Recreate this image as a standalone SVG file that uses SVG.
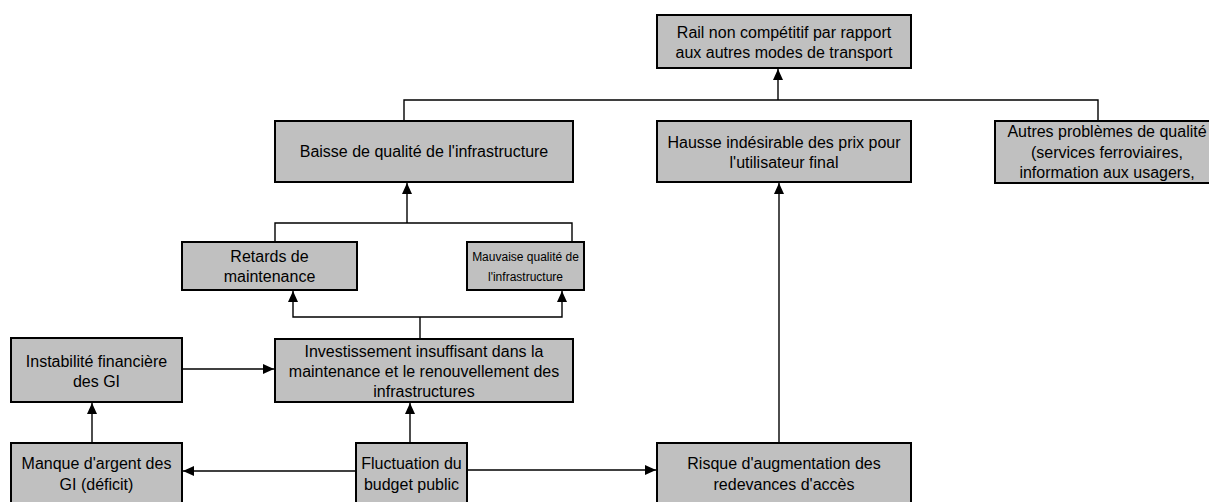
<svg xmlns="http://www.w3.org/2000/svg" width="1209" height="502" viewBox="0 0 1209 502">
<defs>
<style>
.box{fill:#c0c0c0;stroke:#000;stroke-width:2}
.t{font-family:"Liberation Sans",Arial,sans-serif;font-size:16px;fill:#000;text-anchor:middle}
.s{font-size:12px}
.c{fill:none;stroke:#000;stroke-width:1.4}
.a{marker-end:url(#ah)}
</style>
<marker id="ah" markerUnits="userSpaceOnUse" markerWidth="11" markerHeight="10" refX="11" refY="5" orient="auto" viewBox="0 0 11 10">
<path d="M0,0 L11,5 L0,10 z" fill="#000"/>
</marker>
</defs>
<rect width="1209" height="502" fill="#fff"/>
<g id="connectors">
<path class="c a" d="M778,100 V69"/>
<path class="c" d="M404,121 V100 H1098 V121"/>
<path class="c a" d="M407,223 V183"/>
<path class="c" d="M275,242 V223 H572 V242"/>
<path class="c" d="M420,339 V317"/>
<path class="c a" d="M420,317 H293 V291"/>
<path class="c a" d="M420,317 H562 V291"/>
<path class="c a" d="M182,369 H274"/>
<path class="c a" d="M92,443 V403"/>
<path class="c a" d="M410,443 V403"/>
<path class="c a" d="M356,471 H183"/>
<path class="c a" d="M467,470 H656"/>
<path class="c a" d="M779,443 V183"/>
</g>
<g id="rail"><rect class="box" x="657" y="15" width="254" height="53"/>
<text class="t" x="784" y="37.5">Rail non compétitif par rapport</text>
<text class="t" x="784" y="57.5">aux autres modes de transport</text></g>
<g id="baisse"><rect class="box" x="275" y="121" width="298" height="61"/>
<text class="t" x="424" y="157">Baisse de qualité de l'infrastructure</text></g>
<g id="hausse"><rect class="box" x="657" y="121" width="254" height="61"/>
<text class="t" x="784" y="147.5">Hausse indésirable des prix pour</text>
<text class="t" x="784" y="167.5">l'utilisateur final</text></g>
<g id="autres"><rect class="box" x="995" y="121" width="224" height="62"/>
<text class="t" x="1107" y="137">Autres problèmes de qualité</text>
<text class="t" x="1107" y="157.5">(services ferroviaires,</text>
<text class="t" x="1107" y="178">information aux usagers,</text></g>
<g id="retards"><rect class="box" x="182" y="242" width="175" height="48"/>
<text class="t" x="269.5" y="261.5">Retards de</text>
<text class="t" x="269.5" y="281.5">maintenance</text></g>
<g id="mauvaise"><rect class="box" x="467" y="242" width="117" height="48"/>
<text class="t s" x="525.5" y="261">Mauvaise qualité de</text>
<text class="t s" x="525.5" y="281">l'infrastructure</text></g>
<g id="instabilite"><rect class="box" x="11" y="338" width="171" height="64"/>
<text class="t" x="96.5" y="366.5">Instabilité financière</text>
<text class="t" x="96.5" y="386.5">des GI</text></g>
<g id="investissement"><rect class="box" x="275" y="339" width="298" height="63"/>
<text class="t" x="424" y="356.5">Investissement insuffisant dans la</text>
<text class="t" x="424" y="376.5">maintenance et le renouvellement des</text>
<text class="t" x="424" y="396.5">infrastructures</text></g>
<g id="manque"><rect class="box" x="11" y="443" width="171" height="70"/>
<text class="t" x="96.5" y="469">Manque d'argent des</text>
<text class="t" x="96.5" y="490">GI (déficit)</text></g>
<g id="fluctuation"><rect class="box" x="356" y="443" width="111" height="70"/>
<text class="t" x="411.5" y="469">Fluctuation du</text>
<text class="t" x="411.5" y="490">budget public</text></g>
<g id="risque"><rect class="box" x="657" y="443" width="254" height="70"/>
<text class="t" x="784" y="469">Risque d'augmentation des</text>
<text class="t" x="784" y="490">redevances d'accès</text></g>
</svg>
